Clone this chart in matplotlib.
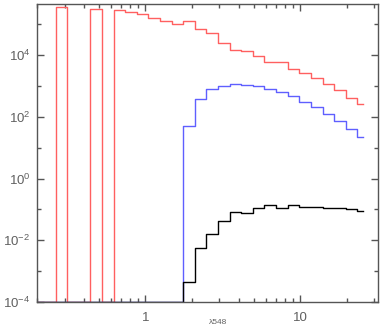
import numpy as np
import matplotlib
matplotlib.use("Agg")
import matplotlib.pyplot as plt
from matplotlib.ticker import FixedLocator, FixedFormatter, NullFormatter

plt.rcParams['font.family'] = ['Liberation Sans', 'DejaVu Sans']
plt.rcParams['mathtext.fontset'] = 'custom'
plt.rcParams['mathtext.rm'] = 'Liberation Sans'
plt.rcParams['mathtext.it'] = 'Liberation Sans:italic'

# bin centres (x)
x_centers = [0.2018, 0.2399, 0.2851, 0.3388, 0.4027, 0.4786, 0.5689, 0.6761,
             0.8035, 0.9550, 1.135, 1.349, 1.603, 1.905, 2.265, 2.692, 3.199,
             3.802, 4.519, 5.370, 6.383, 7.586, 9.016, 10.72, 12.74, 15.14,
             17.99, 21.38, 25.41]

red_vals = [0, 0, 3.64e5, 0, 0, 3.21e5, 0, 2.92e5,
            2.51e5, 2.10e5, 1.64e5, 1.29e5, 1.00e5, 1.29e5, 7.11e4, 5.28e4, 2.51e4,
            1.45e4, 1.40e4, 9.29e3, 6.12e3, 6.0e3, 3.72e3, 2.70e3, 1.77e3, 1.19e3,
            726, 410, 262]

blue_vals = [0, 0, 0, 0, 0, 0, 0, 0,
             0, 0, 0, 0, 0, 51.3, 393, 783, 977,
             1135, 1109, 977, 800, 627, 466, 305, 206, 129,
             74.3, 39.3, 21.6]

black_vals = [0, 0, 0, 0, 0, 0, 0, 0,
              0, 0, 0, 0, 0, 4.55e-4, 5.69e-3, 1.61e-2, 4.10e-2,
              8.24e-2, 7.83e-2, 0.111, 0.139, 0.108, 0.139, 0.119, 0.122, 0.111,
              0.111, 0.103, 0.0887]

y_major = [1e-4, 1e-2, 1e0, 1e2, 1e4]
y_major_labels = [r'$10^{-4}$', r'$10^{-2}$', r'$10^{0}$', r'$10^{2}$', r'$10^{4}$']
y_minor = [1e-3, 1e-1, 1e1, 1e3, 1e5]
x_major = [1, 10]
x_major_labels = ['1', '10']
x_minor = [0.2, 0.3, 0.4, 0.5, 0.6, 0.7, 0.8, 0.9, 2, 3, 4, 5, 6, 7, 8, 9, 20, 30]
x_label = 'λ548'

ymin, ymax = 1e-4, 4.5e5
xmin, xmax = 0.2, 32

fig = plt.figure(figsize=(3.82, 3.27), dpi=100)
ax = fig.add_axes([0.0976, 0.0765, 0.893, 0.9104])
ax.set_xscale('log')
ax.set_yscale('log')

x = np.array(x_centers)
for vals, col in [(red_vals, '#ff6060'), (blue_vals, '#5f5fff'), (black_vals, '#000000')]:
    v = np.clip(np.array(vals, dtype=float), ymin, None)
    ax.step(x, v, where='mid', color=col, lw=1.0)

ax.set_xlim(xmin, xmax)
ax.set_ylim(ymin, ymax)

axcol = '#555555'
for s in ax.spines.values():
    s.set_color(axcol)
    s.set_linewidth(1.0)

ax.yaxis.set_major_locator(FixedLocator(y_major))
ax.yaxis.set_major_formatter(FixedFormatter(y_major_labels))
ax.yaxis.set_minor_locator(FixedLocator(y_minor))
ax.yaxis.set_minor_formatter(NullFormatter())
ax.xaxis.set_major_locator(FixedLocator(x_major))
ax.xaxis.set_major_formatter(FixedFormatter(x_major_labels))
ax.xaxis.set_minor_locator(FixedLocator(x_minor))
ax.xaxis.set_minor_formatter(NullFormatter())

ax.tick_params(which='both', direction='in', top=True, right=True, color=axcol,
               labelcolor='#606060', labelsize=9.5)
ax.tick_params(which='major', length=5, width=1.0)
ax.tick_params(which='minor', length=3, width=1.0)
ax.tick_params(axis='y', pad=5)
ax.tick_params(axis='x', pad=7)

fig.text(218 / 382, 1 - 326.5 / 327, x_label, ha='center', va='bottom',
         fontsize=6, color='#606060')

fig.savefig('out.png', dpi=100)
